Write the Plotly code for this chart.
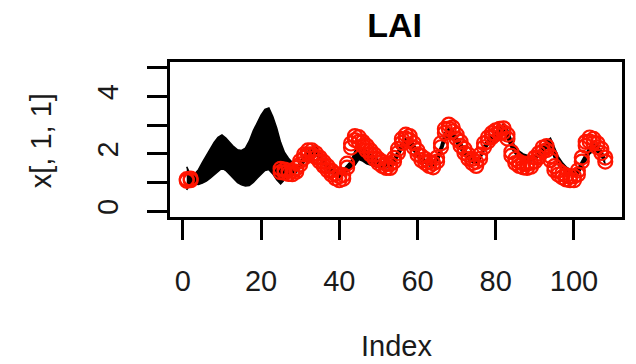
import plotly.graph_objects as go

# ---------------- data ----------------
index = list(range(1, 109))

# ensemble envelope (upper / lower over all members) per index
ens_upper = [1.55, 1.25, 1.30, 1.45, 1.70, 1.95, 2.20, 2.40, 2.58, 2.66,
             2.55, 2.40, 2.25, 2.14, 2.12, 2.20, 2.45, 2.80, 3.10, 3.35,
             3.55, 3.60, 3.30, 2.90, 2.40, 2.05, 1.85, 1.70, 1.50, 1.72,
             1.95, 2.10, 2.20, 2.30, 2.05, 1.80, 1.62, 1.48, 1.38, 1.35,
             1.45, 1.60, 1.75, 2.10, 2.30, 2.20, 2.10, 2.00, 1.90, 1.80,
             1.70, 1.65, 1.70, 1.85, 2.10, 2.40, 2.55, 2.55, 2.35, 2.10,
             1.90, 1.80, 1.72, 1.72, 1.90, 2.30, 2.75, 2.90, 2.85, 2.60,
             2.40, 2.20, 2.00, 1.85, 1.80, 1.95, 2.30, 2.50, 2.65, 2.75,
             2.85, 3.05, 2.85, 2.50, 2.25, 2.10, 2.00, 1.95, 1.90, 1.95,
             2.05, 2.25, 2.45, 2.55, 2.20, 1.90, 1.70, 1.55, 1.45, 1.40,
             1.50, 1.75, 2.05, 2.25, 2.35, 2.30, 2.10, 1.85]
ens_lower = [0.74, 1.00, 0.95, 0.93, 0.98, 1.05, 1.15, 1.27, 1.40, 1.50,
             1.42, 1.28, 1.12, 1.00, 0.92, 0.88, 0.90, 1.00, 1.15, 1.30,
             1.42, 1.45, 1.30, 1.10, 0.95, 1.10, 1.25, 1.30, 1.35, 1.50,
             1.70, 1.90, 2.00, 1.95, 1.80, 1.62, 1.45, 1.32, 1.22, 1.18,
             1.25, 1.40, 1.50, 1.60, 1.80, 1.75, 1.65, 1.60, 1.55, 1.52,
             1.50, 1.50, 1.52, 1.65, 1.90, 2.15, 2.30, 2.30, 2.10, 1.90,
             1.75, 1.65, 1.58, 1.58, 1.70, 2.00, 2.45, 2.65, 2.60, 2.35,
             2.15, 1.95, 1.80, 1.70, 1.65, 1.80, 2.10, 2.30, 2.45, 2.60,
             2.65, 2.75, 2.50, 2.20, 2.00, 1.90, 1.80, 1.75, 1.75, 1.80,
             1.90, 2.05, 2.20, 2.20, 1.85, 1.60, 1.45, 1.35, 1.28, 1.22,
             1.30, 1.50, 1.75, 2.00, 2.10, 2.05, 1.90, 1.65]

# observations (red circles)
obs_index = [1, 2] + list(range(25, 109))
obs_a = [1.12, 1.14,
         1.48, 1.45, 1.42, 1.40, 1.50, 1.75, 1.98, 2.12, 2.12, 2.02,
         1.87, 1.72, 1.57, 1.42, 1.30, 1.22, 1.26, 1.66, 2.36, 2.62,
         2.58, 2.42, 2.28, 2.12, 1.97, 1.82, 1.72, 1.65, 1.65, 1.86,
         2.17, 2.52, 2.67, 2.62, 2.37, 2.12, 1.92, 1.82, 1.72, 1.67,
         1.87, 2.37, 2.87, 3.02, 2.92, 2.67, 2.42, 2.17, 1.97, 1.82,
         1.72, 1.97, 2.37, 2.57, 2.72, 2.82, 2.87, 2.89, 2.67, 2.07,
         1.82, 1.72, 1.67, 1.65, 1.69, 1.87, 2.02, 2.22, 2.27, 1.92,
         1.57, 1.42, 1.32, 1.25, 1.22, 1.22, 1.42, 1.87, 2.42, 2.57,
         2.52, 2.37, 2.17, 1.87]
obs_b = [1.06, 1.08,
         1.36, 1.34, 1.30, 1.29, 1.38, 1.63, 1.86, 1.98, 1.98, 1.88,
         1.73, 1.58, 1.43, 1.28, 1.15, 1.08, 1.13, 1.52, 2.22, 2.48,
         2.42, 2.28, 2.12, 1.98, 1.83, 1.68, 1.58, 1.51, 1.51, 1.73,
         2.03, 2.38, 2.53, 2.48, 2.23, 1.98, 1.78, 1.68, 1.58, 1.53,
         1.73, 2.23, 2.73, 2.88, 2.78, 2.53, 2.28, 2.03, 1.83, 1.68,
         1.58, 1.83, 2.23, 2.43, 2.58, 2.68, 2.73, 2.75, 2.53, 1.93,
         1.68, 1.58, 1.53, 1.51, 1.55, 1.73, 1.88, 2.08, 2.13, 1.78,
         1.43, 1.28, 1.18, 1.11, 1.08, 1.08, 1.28, 1.73, 2.28, 2.43,
         2.38, 2.23, 2.03, 1.73]

x_tick_vals = [0, 20, 40, 60, 80, 100]
x_tick_text = ["0", "20", "40", "60", "80", "100"]
y_tick_vals = [0, 1, 2, 3, 4, 5]
y_tick_text = ["0", "", "2", "", "4", ""]

title_text = "LAI"
x_label = "Index"
y_label = "x[, 1, 1]"

# ---------------- figure ----------------
FONT = "Liberation Sans, Arial, Helvetica, sans-serif"

fig = go.Figure()
fig.add_trace(go.Scatter(x=index, y=ens_lower, mode="lines",
                         line=dict(color="black", width=1.5),
                         showlegend=False, hoverinfo="skip"))
fig.add_trace(go.Scatter(x=index, y=ens_upper, mode="lines",
                         line=dict(color="black", width=1.5),
                         fill="tonexty", fillcolor="black",
                         showlegend=False, hoverinfo="skip"))
for ys in (obs_a, obs_b):
    fig.add_trace(go.Scatter(x=obs_index, y=ys, mode="markers",
                             marker=dict(symbol="circle-open", size=14,
                                         color="#ff1400",
                                         line=dict(width=2.2, color="#ff1400")),
                             showlegend=False))

axis_common = dict(showgrid=False, zeroline=False, showline=True, mirror=True,
                   linecolor="black", linewidth=2.5, ticks="outside",
                   ticklen=20, tickwidth=2.5, tickcolor="black",
                   tickfont=dict(family=FONT, size=29, color="#1a1a1a"))

fig.update_layout(
    width=636, height=364,
    margin=dict(l=170, r=14, t=62, b=147),
    paper_bgcolor="white", plot_bgcolor="white",
    title=dict(text="<b>" + title_text + "</b>", x=0.497, xref="paper",
               y=1 - 25 / 364, yref="container", yanchor="middle",
               xanchor="center",
               font=dict(family=FONT, size=34, color="black")),
    xaxis=dict(range=[-3.28, 112.28], tickmode="array",
               tickvals=x_tick_vals, ticktext=x_tick_text,
               ticklabelstandoff=16, **axis_common),
    yaxis=dict(range=[-0.2, 5.2], tickmode="array",
               tickvals=y_tick_vals, ticktext=y_tick_text,
               tickangle=-90, ticklabelstandoff=18, **axis_common),
    annotations=[
        dict(text=x_label, xref="paper", yref="paper", x=0.5, y=-0.835,
             xanchor="center", yanchor="middle", showarrow=False,
             font=dict(family=FONT, size=29, color="#1a1a1a")),
        dict(text=y_label, xref="paper", yref="paper", x=-0.285, y=0.49,
             xanchor="center", yanchor="middle", showarrow=False,
             textangle=-90,
             font=dict(family=FONT, size=29, color="#1a1a1a")),
    ],
)

fig.write_html("out.html")
